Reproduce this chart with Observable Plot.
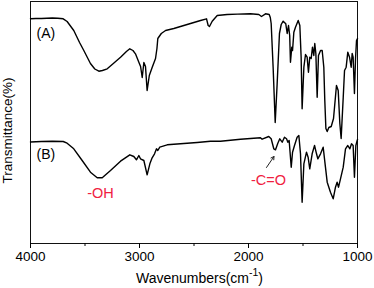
<!DOCTYPE html>
<html>
<head>
<meta charset="utf-8">
<script src="https://cdn.jsdelivr.net/npm/d3@7"></script>
<script src="https://cdn.jsdelivr.net/npm/@observablehq/plot@0.6"></script>
<style>
  html, body { margin: 0; padding: 0; background: #fff; }
  #chart svg { display: block; }
</style>
</head>
<body>
<div id="chart"></div>
<script>
// Wavenumbers (cm-1) and transmittance (arbitrary units, offset curves)
const wnA = [4000,3950,3900,3850,3800,3750,3700,3664,3603,3550,3511,3450,3410,3373,3340,3296,3240,3174,3120,3089,3060,3037,3006,2990,2975,2960,2945,2930,2910,2884,2853,2840,2832,2800,2761,2685,2624,2532,2440,2385,2370,2358,2333,2287,2196,2100,1982,1905,1881,1844,1810,1800,1792,1774,1755,1737,1716,1700,1682,1658,1645,1633,1622,1615,1603,1596,1584,1569,1544,1529,1517,1508,1492,1477,1462,1450,1438,1425,1413,1401,1392,1382,1370,1358,1339,1324,1309,1300,1290,1278,1263,1241,1220,1193,1177,1162,1150,1131,1119,1104,1089,1073,1058,1049,1040,1028,1018,1009,1000];
const tA = [224.7,225,225,225.3,225.5,225.3,224.7,222,213,201,193,180,174.5,172.3,173,174.7,180,186.3,192,194.7,193,189.7,181.3,177,166,181,177,153,168,176,185,195,205,210,213,215,217,220,223,224.7,218,217,222.3,228,229,229.4,229.7,229,227,229.7,229,226,220,176,121,160,210,219,222.3,219.7,210,218,208,181.3,196.3,193,211.3,216.3,223,218,186.3,134.7,176.3,189,186.3,171.3,186.3,185,196.3,188,200,190,146.3,188,193,193,176.3,143,115,112,116,117,125,158,153,120,105,146,173,176.3,191.3,186.3,176.3,190,186.3,150,185,203,205];

const wnB = [4000,3900,3800,3700,3664,3603,3526,3450,3388,3342,3266,3174,3089,3052,3028,3006,2991,2960,2930,2905,2884,2862,2844,2832,2814,2746,2624,2471,2349,2257,2073,1890,1875,1814,1792,1768,1752,1731,1713,1691,1670,1651,1639,1627,1608,1596,1578,1554,1538,1523,1508,1492,1468,1453,1438,1416,1394,1376,1364,1339,1315,1294,1278,1248,1223,1202,1187,1174,1156,1131,1110,1089,1070,1055,1040,1028,1015,1003,1000];
const tB = [101.5,102,102.3,102,100.3,94.7,83,71.3,65.7,65.7,73,82.3,88.7,87,83.7,88,84.7,83,68.7,79.7,85.7,89.7,94.7,93,96.3,98.7,99.7,101,102.3,102.3,104.3,105.7,104.3,107,104.7,94.7,93.7,100.3,104.7,101.3,106.3,104.7,101.3,103,76.3,91.3,98,106.3,108,89.7,41.3,79.7,91.3,86.3,74.7,89.7,98,89.7,84.7,89.7,96.3,76.3,61.3,51.3,44.7,56.3,61.3,56.3,64.7,76.3,94.7,98,94.7,99.7,98,66.3,98,103,104];

const majorTicks = [4000, 3000, 2000, 1000];
const minorTicks = [3500, 2500, 1500];

const curveLabels = [
  {wn: 3945, t: 210.3, text: "(A)"},
  {wn: 3945, t: 89, text: "(B)"}
];
const bandLabels = [
  {wn: 3358, t: 50.3, text: "-OH"},
  {wn: 1817, t: 63, text: "-C=O"}
];
const arrows = [{wn1: 1835, t1: 76, wn2: 1766, t2: 87}];
const yLabel = [{wn: 4000, t: 113, text: "Transmittance(%)"}];

const dataA = wnA.map((w, i) => ({wn: w, t: tA[i]}));
const dataB = wnB.map((w, i) => ({wn: w, t: tB[i]}));

const red = "#f0203f";

const chart = Plot.plot({
  width: 374,
  height: 288,
  marginLeft: 30,
  marginRight: 17,
  marginTop: 1,
  marginBottom: 45,
  style: {fontFamily: "'Liberation Sans', Arial, sans-serif", fontSize: "13px", color: "#000", background: "#fff"},
  x: {domain: [4000, 1000]},
  y: {domain: [0, 242], axis: null},
  marks: [
    Plot.frame({stroke: "#111", strokeWidth: 1}),
    Plot.axisX(majorTicks, {tickSize: 5, tickPadding: 3, tickFormat: "d", label: null, fontSize: 13.5}),
    Plot.axisX(minorTicks, {tickSize: 3, text: null, label: null}),
    Plot.line(dataA, {x: "wn", y: "t", stroke: "#000", strokeWidth: 1.4}),
    Plot.line(dataB, {x: "wn", y: "t", stroke: "#000", strokeWidth: 1.4}),
    Plot.text(curveLabels, {x: "wn", y: "t", text: "text", textAnchor: "start", fontSize: 14, fill: "#000"}),
    Plot.text(bandLabels, {x: "wn", y: "t", text: "text", fontSize: 14.5, fill: red}),
    Plot.arrow(arrows, {x1: "wn1", y1: "t1", x2: "wn2", y2: "t2", stroke: "#222", strokeWidth: 1, headLength: 5}),
    Plot.text(yLabel, {x: "wn", y: "t", text: "text", rotate: -90, dx: -22.5, fontSize: 13.5, fill: "#000"})
  ]
});

// X-axis title with superscript
const xs = chart.scale("x");
const svg = d3.select(chart);
const lbl = svg.append("text")
  .attr("x", xs.apply(2500) + 6)
  .attr("y", 283)
  .attr("text-anchor", "middle")
  .attr("font-size", 14)
  .attr("fill", "#000");
lbl.append("tspan").text("Wavenumbers(cm");
lbl.append("tspan").attr("dy", -7).attr("font-size", 10.5).text("-1");
lbl.append("tspan").attr("dy", 7).text(")");

document.getElementById("chart").appendChild(chart);
</script>
</body>
</html>
